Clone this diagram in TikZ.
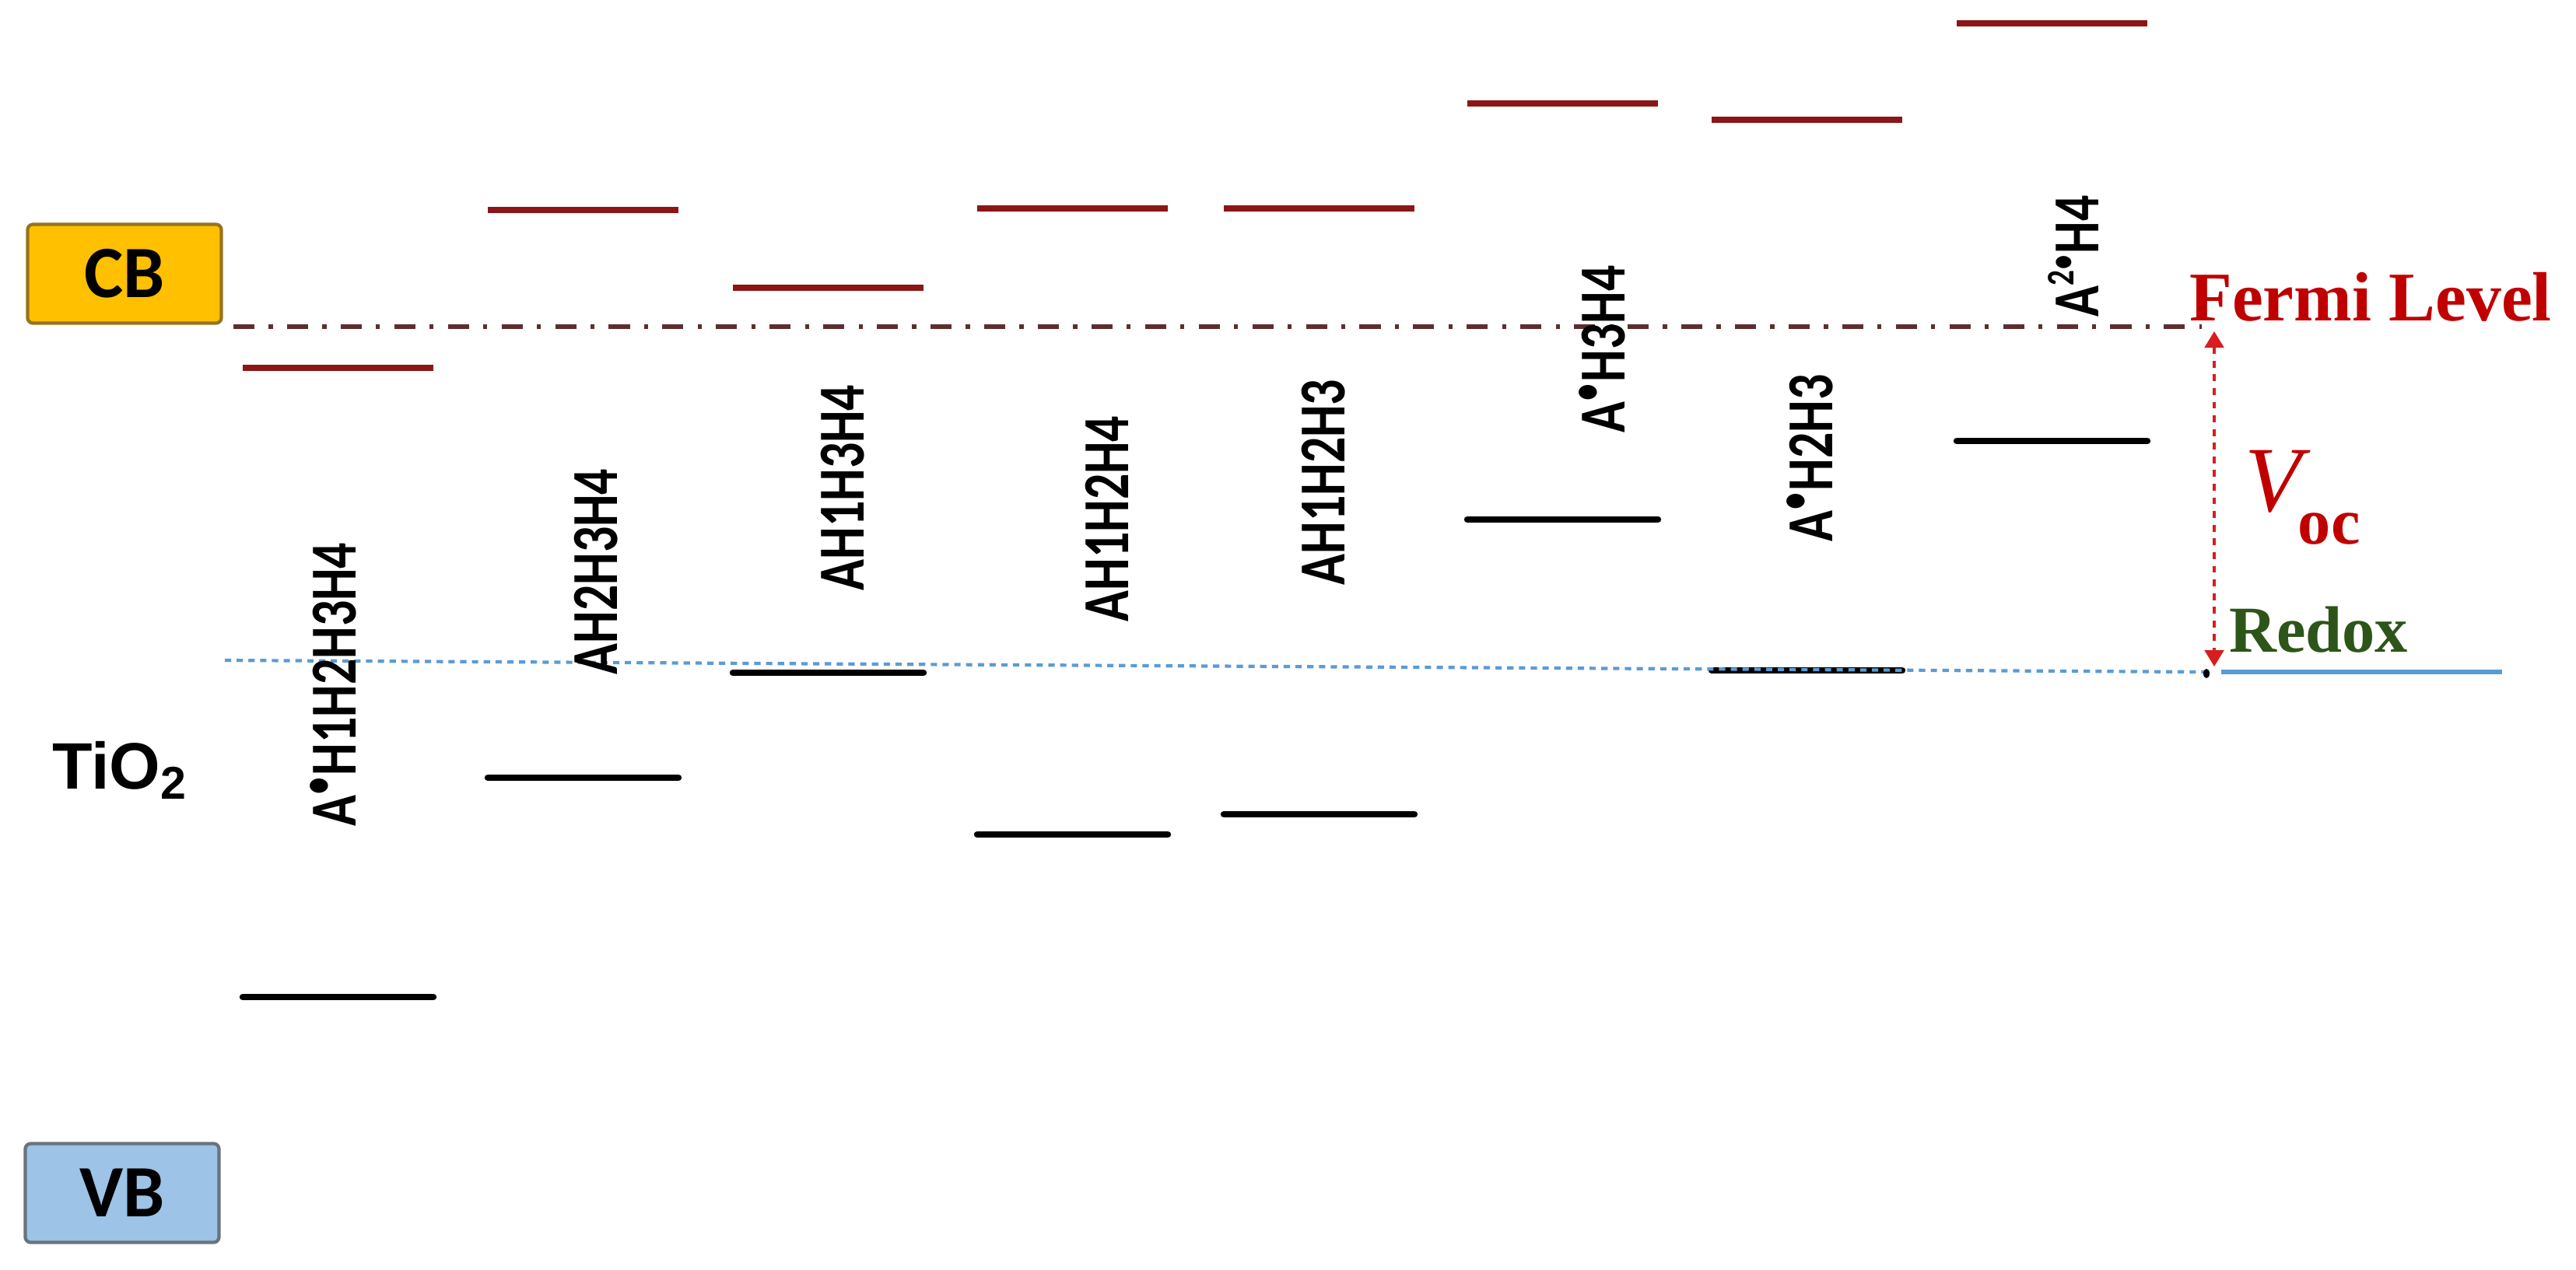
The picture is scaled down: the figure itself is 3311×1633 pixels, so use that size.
\documentclass[tikz,border=0pt]{standalone}
\usepackage{fontspec}
\setmainfont{Liberation Serif}
\newfontfamily\labfont{Carlito}
\newfontfamily\arialfont{Liberation Sans}
\usetikzlibrary{arrows.meta}
\definecolor{levred}{RGB}{140,22,22}
\definecolor{fermired}{RGB}{192,0,0}
\definecolor{fermiline}{RGB}{95,45,45}
\definecolor{cbfill}{RGB}{255,192,0}
\definecolor{cbdraw}{RGB}{150,115,30}
\definecolor{vbfill}{RGB}{157,195,230}
\definecolor{vbdraw}{RGB}{105,115,125}
\definecolor{redoxblue}{RGB}{91,155,213}
\definecolor{redoxgreen}{RGB}{45,85,25}
\definecolor{vocred}{RGB}{215,30,30}
\begin{document}
\begin{tikzpicture}[x=0.01cm,y=-0.01cm,
  cblevel/.style={draw=levred,line width=2.2pt},
  vblevel/.style={draw=black,line width=2.4pt,line cap=round},
  mollabel/.style={rotate=90,anchor=base west,inner sep=0pt,font=\labfont\bfseries\fontsize{24}{24}\selectfont},
  bandbox/.style={rounded corners=2pt,line width=1.2pt,minimum width=2.49cm,minimum height=1.27cm,inner sep=0pt,font=\labfont\bfseries\fontsize{27}{27}\selectfont},
  serlabel/.style={font=\bfseries\fontsize{24}{24}\selectfont,inner sep=0pt}
]
\fill[white] (0,0) rectangle (3311,1633);
\useasboundingbox (0,0) rectangle (3311,1633);

% band boxes and TiO2
\node[bandbox,fill=cbfill,draw=cbdraw] (cb) at (160,352) {CB};
\node[bandbox,fill=vbfill,draw=vbdraw] (vb) at (157,1534) {VB};
\node[font=\arialfont\bfseries\fontsize{24}{24}\selectfont,inner sep=0pt] (tio) at (154,990) {TiO\textsubscript{2}};

% Fermi level
\coordinate (fl) at (300,420);
\coordinate (fr) at (2830,420);
\draw[fermiline,line width=1.8pt,dash pattern=on 7.7pt off 5.2pt on 1.5pt off 5.2pt] (fl) -- (fr);

% energy levels
\foreach \xs/\yr/\yb in {312/473/1282, 627/270/1000, 942/370/865, 1256/268/1073, 1573/268/1047, 1886/133/668, 2200/154/862, 2515/30/567}{
  \draw[cblevel] (\xs,\yr) -- ++(245,0);
  \draw[vblevel] (\xs,\yb) -- ++(245,0);
}

% redox
\coordinate (rl) at (289,849);
\coordinate (rr) at (2834,864);
\draw[redoxblue,line width=1.2pt,dash pattern=on 2.3pt off 2pt] (rl) -- (rr);
\fill[black] (2836,866) ellipse (4 and 6);
\coordinate (sl) at (2855,864);
\coordinate (sr) at (3216,864);
\draw[redoxblue,line width=1.7pt] (sl) -- (sr);

% Voc arrow
\coordinate (vt) at (2846,426);
\coordinate (vbot) at (2846,857);
\draw[vocred,line width=1pt,dash pattern=on 2.5pt off 2.5pt,{Triangle[length=6pt,width=7pt]}-{Triangle[length=6pt,width=7pt]}] (vt) -- (vbot);

% labels on right
\node[serlabel,text=fermired,font=\bfseries\fontsize{25.5}{25.5}\selectfont] (fermi) at (3047,382) {Fermi Level};
\node[serlabel,text=redoxgreen] (redox) at (2980,810) {Redox};
\node[text=fermired,anchor=west,inner sep=0pt] (voc) at (2885,640) {\fontsize{34}{34}\selectfont\itshape V\kern-0.04em\raisebox{-0.35em}{\fontsize{24}{24}\selectfont\bfseries\upshape oc}};

% molecule labels
\node[mollabel] (m1) at (457,1063) {\scalebox{0.78}[1]{A\textsuperscript{$\bullet$}H1H2H3H4}};
\node[mollabel] (m2) at (793,868) {\scalebox{0.78}[1]{AH2H3H4}};
\node[mollabel] (m3) at (1110,760) {\scalebox{0.78}[1]{AH1H3H4}};
\node[mollabel] (m4) at (1450,800) {\scalebox{0.78}[1]{AH1H2H4}};
\node[mollabel] (m5) at (1728,753) {\scalebox{0.78}[1]{AH1H2H3}};
\node[mollabel] (m6) at (2088,557) {\scalebox{0.78}[1]{A\textsuperscript{$\bullet$}H3H4}};
\node[mollabel] (m7) at (2355,697) {\scalebox{0.78}[1]{A\textsuperscript{$\bullet$}H2H3}};
\node[mollabel] (m8) at (2697,408) {\scalebox{0.78}[1]{A\textsuperscript{\scalebox{0.85}{2$\bullet$}}H4}};
\end{tikzpicture}
\end{document}
